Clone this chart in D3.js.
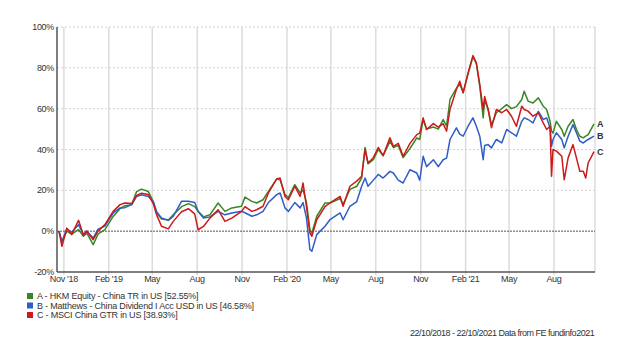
<!DOCTYPE html>
<html>
<head>
<meta charset="utf-8">
<script src="https://cdn.jsdelivr.net/npm/d3@7"></script>
<style>
  body { margin: 0; background: #fff; }
  svg { font-family: "Liberation Sans", Arial, sans-serif; }
</style>
</head>
<body>
<div id="chart"></div>
<script>
const dates = [
  "2018-10-22","2018-10-28","2018-11-07","2018-11-17","2018-12-01","2018-12-11","2018-12-18","2018-12-31",
  "2019-01-10","2019-01-24","2019-02-10","2019-02-24","2019-03-06","2019-03-20","2019-03-30","2019-04-09",
  "2019-04-23","2019-05-03","2019-05-10","2019-05-20","2019-06-03","2019-06-13","2019-06-30","2019-07-14",
  "2019-07-27","2019-08-03","2019-08-14","2019-08-27","2019-09-13","2019-09-27","2019-10-11","2019-10-31",
  "2019-11-07","2019-11-21","2019-12-01","2019-12-14","2019-12-25","2020-01-11","2020-01-18","2020-01-28",
  "2020-02-04","2020-02-17","2020-02-28","2020-03-05","2020-03-12","2020-03-19","2020-03-23","2020-04-02",
  "2020-04-19","2020-04-29","2020-05-20","2020-05-26","2020-06-09","2020-06-23","2020-07-03","2020-07-10",
  "2020-07-16","2020-07-27","2020-08-06","2020-08-16","2020-08-30","2020-09-06","2020-09-16","2020-09-26",
  "2020-10-10","2020-10-24","2020-10-30","2020-11-06","2020-11-13","2020-11-27","2020-12-07","2020-12-17",
  "2020-12-24","2020-12-31","2021-01-13","2021-01-20","2021-01-27","2021-02-06","2021-02-16","2021-02-23",
  "2021-03-02","2021-03-09","2021-03-12","2021-03-19","2021-03-26","2021-04-05","2021-04-16","2021-04-26",
  "2021-05-06","2021-05-16","2021-05-27","2021-06-01","2021-06-09","2021-06-19","2021-06-30","2021-07-10",
  "2021-07-17","2021-07-24","2021-07-27","2021-07-30","2021-08-06","2021-08-17","2021-08-22","2021-08-30",
  "2021-09-09","2021-09-16","2021-09-23","2021-09-30","2021-10-05","2021-10-10","2021-10-22"
];

// cumulative return, %
const hkmEquity = [
  0,-5.5,0,-1.5,0.8,-2.5,-1,-6.6,
  -1.5,0.8,7.2,11,12.5,13,19.4,20.6,
  19.4,14.5,9,6,5.5,8,12,13.5,
  12,9.7,7,8,13.8,9.7,11.4,12.2,
  16.7,14.6,13.8,15.4,19.5,25.6,25,17.9,
  16.5,22.8,18.7,20.3,14,0.7,-1,7.3,
  13.8,13.8,16,13,20.5,22,26,41,
  33,35,40,37,44,41,42,36,
  40.5,45.7,44.9,54.7,50,51,50,54.7,
  51.5,64.5,70,72,68,77,85.5,82,
  71,55.5,64,60,52,58,60,62,
  60,61,64.5,68.5,63.7,62.8,65.3,61.2,
  59.6,53.8,49,48,53.8,49.8,46.5,51.4,
  54.7,49.8,46.5,45.7,46.5,47.3,52.55
];
const matthews = [
  0,-5,1,-0.5,3.2,-1.5,0,-3.4,
  1,2.5,8.8,11.4,11.5,13,17,17.8,
  17,14.5,9.5,6.5,5.3,7.2,14.6,14.6,
  14,9.7,6.4,7,9.7,8,8.9,9.7,
  9,7.3,8,9.7,14,17.9,18.7,11.4,
  9.7,14,11.4,14,6.4,-9,-9.8,-1.7,
  2.4,5.6,8.9,5.6,12.2,14.5,22,26,
  22,25,27.8,26,29.3,28.5,25,23.6,
  30.1,28.5,25,36.7,31.6,35,31.6,35,
  35.8,44.9,50.6,47.5,46.5,51.4,55.5,51.4,
  46.5,35,42,42.4,40.8,44.9,43.2,49.8,
  48.2,46.5,53.8,55.5,54.7,53,58.7,54.7,
  55.5,50.6,41.6,44.9,48.2,44.9,40.8,46.5,
  52.2,48.2,44.1,43.2,44.1,44.9,46.58
];
const msciChina = [
  0,-7.4,1.5,-1.7,5.3,-2,0,-4.2,
  0,3.2,9.7,13,13.8,13.5,17.5,18.6,
  18,13.5,8,2.4,1.1,4.8,9.5,11,
  8.5,0.7,2.3,6.4,10.5,4.8,6.4,9.7,
  12,9.7,10.5,12.2,18.7,25.6,26,17,
  15.4,22,17,23.6,12,-0.9,-2.5,5.6,
  12,13.8,17,12.2,22,24.5,26.9,40,
  33.4,36,41,37,45.7,41.5,43,36.7,
  43,47.3,48,55.5,49.8,52.7,51,52.7,
  49,59.6,69.4,73.4,67.7,77.5,86,82.4,
  71.8,59.6,66,59.6,50.6,59.6,58,59.6,
  56.3,51.4,61.2,59.6,58.8,56.3,57.9,53,
  49.8,51.4,26.9,40,39.2,36.7,25.2,35.9,
  42.4,35.9,29.3,29.3,26,33.4,38.93
];

const seriesNames = [
  "A - HKM Equity - China TR in US [52.55%]",
  "B - Matthews - China Dividend I Acc USD in US [46.58%]",
  "C - MSCI China GTR in US [38.93%]"
];
const seriesKeys = ["A", "B", "C"];
const seriesColors = ["#3a8526", "#2f5dc6", "#cc1a1a"];
const yTicks = [-20, 0, 20, 40, 60, 80, 100];
const xTickDates = ["2018-11-01","2019-02-01","2019-05-01","2019-08-01","2019-11-01","2020-02-01",
  "2020-05-01","2020-08-01","2020-11-01","2021-02-01","2021-05-01","2021-08-01"];
const xTickLabels = ["Nov '18","Feb '19","May","Aug","Nov","Feb '20","May","Aug","Nov","Feb '21","May","Aug"];
const footer = "22/10/2018 - 22/10/2021 Data from FE fundinfo2021";

const parse = d3.timeParse("%Y-%m-%d");
const W = 640, H = 360;
const plotL = 57, plotR = 595, plotT = 27, plotB = 272;

const svg = d3.select("#chart").append("svg")
    .attr("width", W)
    .attr("height", H);

const x = d3.scaleTime()
    .domain([parse(dates[0]), parse(dates[dates.length - 1])])
    .range([59, 594]);
const y = d3.scaleLinear().domain([-20, 100]).range([plotB, plotT]);

// vertical grid
svg.append("g")
    .selectAll("line")
    .data(xTickDates)
    .join("line")
    .attr("x1", d => x(parse(d))).attr("x2", d => x(parse(d)))
    .attr("y1", plotT).attr("y2", plotB + 3)
    .attr("stroke", "#dcdcdc")
    .attr("stroke-width", 1.5);
svg.append("line")
    .attr("x1", plotR).attr("x2", plotR).attr("y1", plotT).attr("y2", plotB)
    .attr("stroke", "#dcdcdc").attr("stroke-width", 1.5);

// horizontal grid
svg.append("g")
    .selectAll("line")
    .data(yTicks.filter(v => v !== -20))
    .join("line")
    .attr("x1", plotL).attr("x2", plotR)
    .attr("y1", d => y(d)).attr("y2", d => y(d))
    .attr("stroke", d => d === 0 ? "#555" : "#d4d4d4")
    .attr("stroke-width", 1)
    .attr("stroke-dasharray", d => d === 0 ? "2,1" : "2,2");

// axes
svg.append("line")
    .attr("x1", plotL).attr("x2", plotL).attr("y1", plotT).attr("y2", plotB)
    .attr("stroke", "#555").attr("stroke-width", 1.5);
svg.append("line")
    .attr("x1", plotL).attr("x2", plotR).attr("y1", plotB).attr("y2", plotB)
    .attr("stroke", "#555").attr("stroke-width", 1.5);

svg.append("g")
    .selectAll("text")
    .data(yTicks)
    .join("text")
    .attr("x", plotL - 3)
    .attr("y", d => y(d) + 3)
    .attr("text-anchor", "end")
    .attr("font-size", 9)
    .attr("letter-spacing", -0.3)
    .attr("fill", "#333")
    .text(d => d + "%");

svg.append("g")
    .selectAll("text")
    .data(xTickDates)
    .join("text")
    .attr("x", (d, i) => x(parse(d)))
    .attr("y", plotB + 10)
    .attr("text-anchor", "middle")
    .attr("font-size", 9)
    .attr("letter-spacing", -0.3)
    .attr("fill", "#333")
    .text((d, i) => xTickLabels[i]);

// lines
const allSeries = [hkmEquity, matthews, msciChina];
const line = d3.line()
    .x((d, i) => x(parse(dates[i])))
    .y(d => y(d));

svg.append("g")
    .selectAll("path")
    .data(allSeries)
    .join("path")
    .attr("d", d => line(d))
    .attr("fill", "none")
    .attr("stroke", (d, i) => seriesColors[i])
    .attr("stroke-width", 1.5)
    .attr("stroke-linejoin", "round");

// end labels
svg.append("g")
    .selectAll("text")
    .data(allSeries)
    .join("text")
    .attr("x", 597)
    .attr("y", d => y(d[d.length - 1]) + 3)
    .attr("font-size", 9)
    .attr("font-weight", "bold")
    .attr("fill", "#333")
    .text((d, i) => seriesKeys[i]);

// legend
const legend = svg.append("g")
    .selectAll("g")
    .data(seriesNames)
    .join("g")
    .attr("transform", (d, i) => `translate(27, ${293 + i * 9.5})`);
legend.append("rect")
    .attr("width", 6).attr("height", 6)
    .attr("fill", (d, i) => seriesColors[i]);
legend.append("text")
    .attr("x", 10).attr("y", 6)
    .attr("font-size", 9)
    .attr("letter-spacing", -0.2)
    .attr("fill", "#333")
    .text(d => d);

svg.append("text")
    .attr("x", 410).attr("y", 336)
    .attr("font-size", 9)
    .attr("letter-spacing", -0.5)
    .attr("fill", "#333")
    .text(footer);
</script>
</body>
</html>
